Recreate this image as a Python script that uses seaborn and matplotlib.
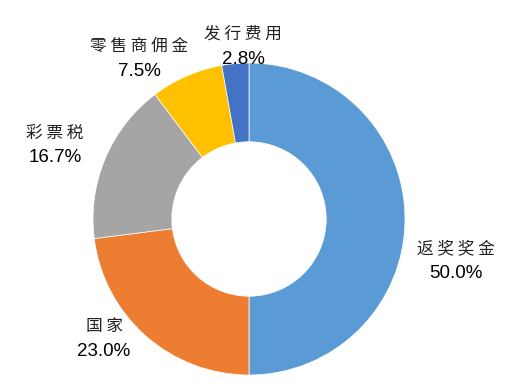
import matplotlib
matplotlib.use('Agg')
import matplotlib.pyplot as plt
import seaborn as sns

sns.set_style("white")
plt.rcParams['font.family'] = ['Liberation Sans', 'Noto Sans CJK SC', 'DejaVu Sans']

categories = ['返奖奖金', '国家', '彩票税', '零售商佣金', '发行费用']
shares = [50.0, 23.0, 16.7, 7.5, 2.8]
colors = ['#5B9BD5', '#ED7D31', '#A5A5A5', '#FFC000', '#4472C4']

# label anchor positions in pixels (x, y from top)
label_pos = [(456, 260), (104, 337), (55, 144), (139, 57), (243, 45)]

W, H = 515, 384
fig = plt.figure(figsize=(W / 100, H / 100), dpi=100)
ax = fig.add_axes([0, 0, 1, 1])

cx, cy, r = 249, H - 219, 156
ax.pie(shares, colors=colors, startangle=90, counterclock=False,
       center=(cx, cy), radius=r, frame=True,
       wedgeprops=dict(width=r * 0.505, edgecolor='white', linewidth=0.5))
ax.set_xlim(0, W)
ax.set_ylim(0, H)
ax.set_aspect('equal')
ax.axis('off')

for name, val, (x, y) in zip(categories, shares, label_pos):
    ax.text(x, H - y + 11, ' '.join(name), ha='center', va='center',
            fontsize=12, family=['Noto Sans CJK SC', 'DejaVu Sans'], color='#222222')
    ax.text(x, H - y - 14, f'{val:.1f}%', ha='center', va='center',
            fontsize=13.5, family=['Liberation Sans', 'DejaVu Sans'], color='black')

fig.savefig('out.png', dpi=100)
